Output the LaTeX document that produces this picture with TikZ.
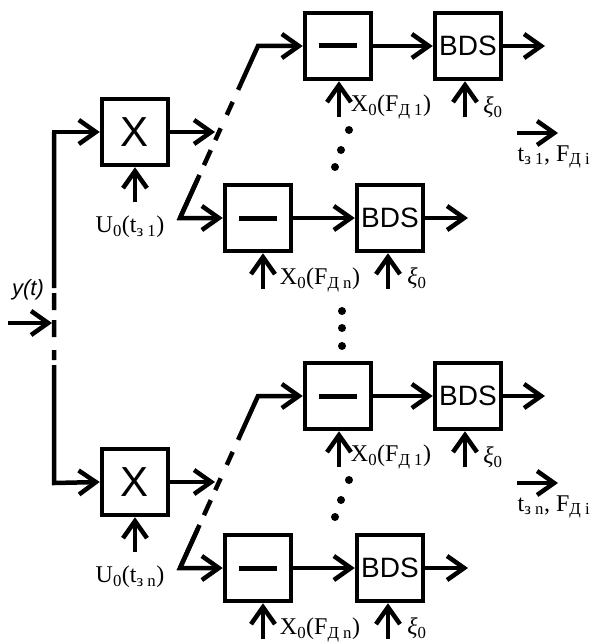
\documentclass[tikz,border=0pt]{standalone}
\usepackage{fontspec}
\setmainfont{Liberation Serif}
\setsansfont{Liberation Sans}
\usetikzlibrary{arrows.meta,calc}
\newcommand\minusbar{\rule{38pt}{5pt}}

\begin{document}
\begin{tikzpicture}[x=1pt,y=-1pt,line width=4.5pt,
  blk/.style={draw,line width=4.5pt,minimum size=66pt,inner sep=0pt},
  xbox/.style={blk,font=\sffamily\fontsize{42}{42}\selectfont},
  bds/.style={blk,font=\sffamily\fontsize{28}{28}\selectfont},
  lbl/.style={inner sep=0pt,font=\fontsize{24}{24}\selectfont},
  arr/.style={-{Straight Barb[length=17pt,width=24pt]}},
  dot/.style={circle,fill,inner sep=0pt,minimum size=8pt},
  diag/.style={arr,dash pattern=on 43pt off 15pt on 16.5pt off 11pt on 13pt off 14.7pt on 14.3pt off 13.2pt on 300pt},
  vdash/.style={arr,dash pattern=on 156pt off 5pt on 17pt off 10pt on 17pt off 13pt on 10pt off 5pt on 400pt}]
\useasboundingbox (0,0) rectangle (593,642);

\foreach \g/\dy/\k in {a/0/1,b/350/n}{
  % multiplier and its reference input
  \node[xbox] (X\g) at (135,{132+\dy}) {X};
  \node[lbl] (u\g) at (130,{227+\dy}) {U\textsubscript{0}(t\textsubscript{з \k})};
  \draw[arr] ($(X\g.south)+(0,35)$) -- (X\g.south);
  % upper channel
  \node[blk] (M\g) at (338,{46+\dy}) {\minusbar};
  \node[bds] (B\g) at (468,{46+\dy}) {BDS};
  \coordinate (BO\g) at (545,{46+\dy});
  \draw[arr] (M\g) -- (B\g);
  \draw[arr] (B\g) -- (BO\g);
  \draw[arr] ($(M\g.south)+(1,36)$) -- ($(M\g.south)+(1,0)$);
  \draw[arr] ($(B\g.south)+(-3,36)$) -- ($(B\g.south)+(-3,0)$);
  \node[lbl] (xm\g) at (391,{107+\dy}) {X\textsubscript{0}(F\textsubscript{Д 1})};
  \node[lbl] (xi\g) at (493,{107+\dy}) {\textit{ξ}\textsubscript{0}};
  % lower channel
  \node[blk] (N\g) at (258,{218+\dy}) {\minusbar};
  \node[bds] (C\g) at (390,{218+\dy}) {BDS};
  \coordinate (CO\g) at (468,{218+\dy});
  \draw[arr] (N\g) -- (C\g);
  \draw[arr] (C\g) -- (CO\g);
  \draw[arr] ($(N\g.south)+(5,36)$) -- ($(N\g.south)+(5,0)$);
  \draw[arr] ($(C\g.south)+(-2,36)$) -- ($(C\g.south)+(-2,0)$);
  \node[lbl] (xn\g) at (320,{280+\dy}) {X\textsubscript{0}(F\textsubscript{Д n})};
  \node[lbl] (xj\g) at (417,{278+\dy}) {\textit{ξ}\textsubscript{0}};
  % channel switch after the multiplier
  \coordinate (T\g) at (258,{46+\dy});
  \coordinate (L\g) at (180,{218+\dy});
  \coordinate (XO\g) at (215,{132+\dy});
  \draw[arr] (X\g) -- (XO\g);
  \draw[diag] (L\g) -- (T\g) -- (M\g.west);
  \draw[arr] ($(L\g)!0.25!(T\g)$) -- (L\g) -- (N\g.west);
  % dots between channels
  \node[dot] (p1\g) at (349,{130+\dy}) {};
  \node[dot] (p2\g) at (341,{150+\dy}) {};
  \node[dot] (p3\g) at (335,{167+\dy}) {};
  % output of the group
  \coordinate (S\g) at (517,{133+\dy});
  \coordinate (SE\g) at (558,{133+\dy});
  \draw[arr] (S\g) -- (SE\g);
  \node[lbl] (s\g) at (554,{157+\dy}) {t\textsubscript{з \k}, F\textsubscript{Д i}};
}

% dots between the two groups
\node[dot] (q1) at (342,311) {};
\node[dot] (q2) at (342,328) {};
\node[dot] (q3) at (342,346) {};

% input and splitting line
\coordinate (Va) at (54,132);
\coordinate (Vb) at (54,483);
\coordinate (Vs) at (54,200);
\coordinate (in) at (8,323);
\coordinate (tap) at (52,323);
\draw[arr] (Vs) -- (Va) -- (Xa.west);
\draw[vdash] (Va) -- (Vb) -- (Xb.west);
\draw[arr] (in) -- (tap);
\node[inner sep=0pt,font=\sffamily\itshape\fontsize{22}{22}\selectfont] (y) at (28,290) {y(t)};
\end{tikzpicture}
\end{document}
